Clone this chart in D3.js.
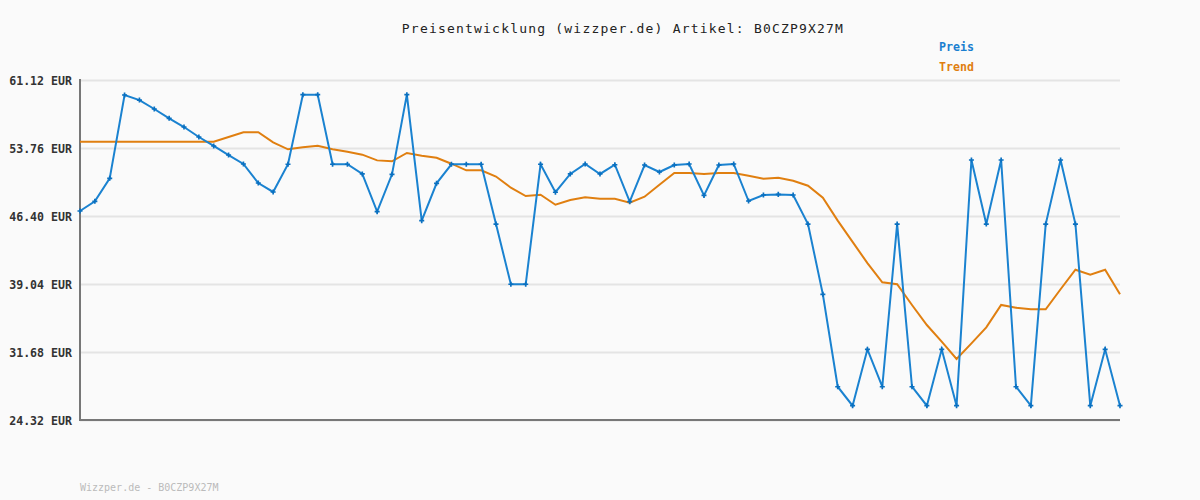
<!DOCTYPE html>
<html><head><meta charset="utf-8">
<script src="https://cdn.jsdelivr.net/npm/d3@7"></script>
<style>html,body{margin:0;padding:0;background:#fafafa;}svg{display:block;}</style>
</head><body>
<svg id="chart" width="1200" height="500"></svg>
<script>
const titleText = "Preisentwicklung (wizzper.de) Artikel: B0CZP9X27M";
const footerText = "Wizzper.de - B0CZP9X27M";
const seriesNames = ["Preis", "Trend"];
const yTicks = [24.32, 31.68, 39.04, 46.40, 53.76, 61.12];
const preis = [46.94, 47.99, 50.48, 59.50, 58.95, 57.98, 56.97, 56.03, 54.95, 53.98,
  53.00, 52.03, 49.97, 49.00, 52.00, 59.53, 59.53, 52.00, 52.00, 50.95,
  46.87, 50.91, 59.53, 45.89, 49.94, 52.00, 52.00, 52.00, 45.53, 39.01,
  39.01, 52.00, 48.97, 50.95, 52.03, 50.95, 51.95, 47.95, 51.92, 51.16,
  51.92, 52.03, 48.63, 51.92, 52.03, 48.02, 48.67, 48.74, 48.67, 45.53,
  37.92, 27.92, 25.87, 31.97, 27.92, 45.53, 27.92, 25.87, 31.97, 25.87,
  52.46, 45.53, 52.46, 27.92, 25.87, 45.53, 52.46, 45.53, 25.87, 31.97, 25.87];
const trend = [54.44, 54.44, 54.44, 54.44, 54.44, 54.44, 54.44, 54.44, 54.44, 54.44,
  54.95, 55.46, 55.46, 54.37, 53.62, 53.83, 54.01, 53.62, 53.36, 53.04,
  52.42, 52.32, 53.22, 52.93, 52.71, 52.06, 51.34, 51.34, 50.67, 49.46,
  48.56, 48.71, 47.62, 48.13, 48.42, 48.27, 48.27, 47.84, 48.49, 49.79,
  51.05, 51.05, 50.95, 51.05, 51.05, 50.76, 50.44, 50.55, 50.22, 49.68,
  48.38, 45.90, 43.60, 41.30, 39.22, 39.01, 36.77, 34.60, 32.80, 30.92,
  32.62, 34.35, 36.77, 36.48, 36.30, 36.30, 38.47, 40.59, 40.05, 40.59, 37.92];

(function () {
const svg = d3.select("#chart");
const mL = 80, mR = 1120, mT = 80, mB = 420;
const x = d3.scaleLinear().domain([0, preis.length - 1]).range([mL, mR]);
const y = d3.scaleLinear().domain([yTicks[0], yTicks[yTicks.length - 1]]).range([mB, mT]);

svg.append("rect").attr("width", 1200).attr("height", 500).attr("fill", "#fafafa");

const yAxis = d3.axisLeft(y).tickValues(yTicks).tickSize(-(mR - mL)).tickFormat(d => d.toFixed(2) + " EUR").tickPadding(8);
const gy = svg.append("g").attr("transform", `translate(${mL},0)`).call(yAxis);
gy.select(".domain").remove();
gy.selectAll(".tick line").attr("stroke", "#e4e4e4").attr("stroke-width", 2);
gy.selectAll(".tick text").attr("fill", "#333").attr("font-family", "DejaVu Sans Mono, monospace")
  .attr("font-size", "11.6px").attr("font-weight", "bold").attr("x", -8).attr("dy", "0.35em");

svg.append("line").attr("x1", mL).attr("x2", mL).attr("y1", mT - 1).attr("y2", mB + 1)
  .attr("stroke", "#777").attr("stroke-width", 2);
svg.append("line").attr("x1", mL - 1).attr("x2", mR).attr("y1", mB).attr("y2", mB)
  .attr("stroke", "#777").attr("stroke-width", 2);

const line = d3.line().x((d, i) => x(i)).y(d => y(d));
svg.append("path").datum(trend).attr("d", line).attr("fill", "none")
  .attr("stroke", "#e07f10").attr("stroke-width", 2);
svg.append("path").datum(preis).attr("d", line).attr("fill", "none")
  .attr("stroke", "#1a82d0").attr("stroke-width", 2);
svg.append("g").selectAll("path").data(preis).join("path")
  .attr("d", d3.symbol().type(d3.symbolCross).size(14))
  .attr("transform", (d, i) => `translate(${x(i)},${y(d)})`)
  .attr("fill", "#0a70c0");

svg.append("text").attr("x", 623).attr("y", 33).attr("text-anchor", "middle")
  .attr("font-family", "DejaVu Sans Mono, monospace").attr("font-size", "13px")
  .attr("letter-spacing", "1.2px").attr("fill", "#222").text(titleText);

const colors = ["#1a7fd0", "#e07f10"];
svg.append("g").selectAll("text").data(seriesNames).join("text")
  .attr("x", 939).attr("y", (d, i) => 51 + i * 20)
  .attr("font-family", "DejaVu Sans Mono, monospace").attr("font-size", "11.6px").attr("font-weight", "bold")
  .attr("fill", (d, i) => colors[i]).text(d => d);

svg.append("text").attr("x", 80).attr("y", 491)
  .attr("font-family", "DejaVu Sans Mono, monospace").attr("font-size", "10px")
  .attr("fill", "#bbb").text(footerText);
})();
</script>
</body></html>
